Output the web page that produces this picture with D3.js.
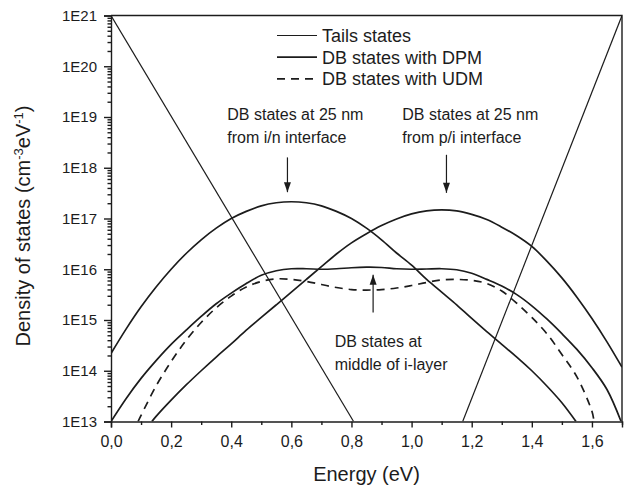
<!DOCTYPE html>
<html>
<head>
<meta charset="utf-8">
<script src="https://cdn.jsdelivr.net/npm/d3@7"></script>
<style>
	body { margin: 0; background: #fff; }
	svg { display: block; font-family: "Liberation Sans", Arial, sans-serif; }
</style>
</head>
<body>
<div id="chart"></div>
<script>
(function () {
	"use strict";

	// axis ticks
	var xTicks = [0, 0.2, 0.4, 0.6, 0.8, 1.0, 1.2, 1.4, 1.6];
	var xMinorTicks = [0.1, 0.3, 0.5, 0.7, 0.9, 1.1, 1.3, 1.5, 1.7];
	var yTicks = [1e13, 1e14, 1e15, 1e16, 1e17, 1e18, 1e19, 1e20, 1e21];

	// tail states (band tails), straight lines on the log axis
	var tailLeftE = [0, 0.807];
	var tailLeftN = [1e21, 1e13];
	var tailRightE = [1.17, 1.7];
	var tailRightN = [1e13, 1e21];

	// DB states with DPM, 25 nm from i/n interface (log10 of density)
	var inE = [0, 0.05, 0.1, 0.15, 0.2, 0.25, 0.3, 0.35, 0.4, 0.45, 0.5, 0.55, 0.6, 0.65, 0.7, 0.75, 0.8, 0.85,
		0.9, 0.95, 1.0, 1.05, 1.1, 1.15, 1.2, 1.25, 1.3, 1.35, 1.4, 1.45, 1.5, 1.547];
	var inLog = [14.34, 14.82, 15.26, 15.65, 16.0, 16.31, 16.58, 16.81, 17.0, 17.14, 17.25, 17.31, 17.33, 17.31, 17.25, 17.14, 17.0, 16.81,
		16.58, 16.32, 16.08, 15.8, 15.55, 15.3, 15.03, 14.77, 14.52, 14.27, 14.0, 13.7, 13.37, 13.0];

	// DB states with DPM, 25 nm from p/i interface
	var piE = [0.136, 0.15, 0.2, 0.25, 0.3, 0.35, 0.4, 0.45, 0.5, 0.55, 0.6, 0.65, 0.7, 0.75, 0.8, 0.85, 0.9,
		0.95, 1.0, 1.05, 1.1, 1.15, 1.2, 1.25, 1.3, 1.35, 1.4, 1.45, 1.5, 1.55, 1.6, 1.65, 1.7];
	var piLog = [13.0, 13.1, 13.42, 13.72, 14.0, 14.27, 14.53, 14.8, 15.05, 15.3, 15.55, 15.8, 16.05, 16.3, 16.52, 16.7, 16.86,
		16.99, 17.09, 17.15, 17.17, 17.15, 17.08, 16.98, 16.83, 16.66, 16.45, 16.16, 15.83, 15.45, 15.03, 14.57, 14.07];

	// DB states with DPM, middle of i-layer
	var midE = [0, 0.05, 0.1, 0.15, 0.2, 0.25, 0.3, 0.35, 0.4, 0.45, 0.5, 0.55, 0.6, 0.65, 0.7, 0.75, 0.8, 0.85,
		0.9, 0.95, 1.0, 1.05, 1.1, 1.15, 1.2, 1.25, 1.3, 1.35, 1.4, 1.45, 1.5, 1.55, 1.6, 1.65, 1.697];
	var midLog = [13.0, 13.45, 13.85, 14.2, 14.52, 14.8, 15.07, 15.32, 15.53, 15.72, 15.88, 15.97, 16.01, 16.01, 16.0, 16.01, 16.03, 16.04,
		16.035, 16.01, 16.0, 16.005, 16.01, 15.99, 15.92, 15.8, 15.67, 15.5, 15.28, 15.02, 14.73, 14.42, 14.06, 13.63, 13.0];

	// DB states with UDM, middle of i-layer
	var udmE = [0.09, 0.1, 0.15, 0.2, 0.25, 0.3, 0.35, 0.4, 0.45, 0.5, 0.55, 0.6, 0.65, 0.7, 0.75, 0.8, 0.85,
		0.9, 0.95, 1.0, 1.05, 1.1, 1.15, 1.2, 1.25, 1.3, 1.35, 1.4, 1.45, 1.5, 1.55, 1.6, 1.607];
	var udmLog = [13.0, 13.12, 13.7, 14.18, 14.6, 14.95, 15.24, 15.47, 15.65, 15.76, 15.81, 15.8, 15.76, 15.7, 15.64, 15.6, 15.59,
		15.6, 15.63, 15.68, 15.74, 15.79, 15.8, 15.78, 15.72, 15.57, 15.33, 15.05, 14.73, 14.32, 13.88, 13.2, 13.0];

	var legendItems = ['Tails states', 'DB states with DPM', 'DB states with UDM'];

	// annotation anchors in data space (energy, density)
	var notes = [
		{ e: 0.387, n: 8.7e18, lines: ['DB states at 25 nm', 'from i/n interface'], arrowE: 0.587, from: 1.6e18, to: 3.3e17 },
		{ e: 0.969, n: 8.7e18, lines: ['DB states at 25 nm', 'from p/i interface'], arrowE: 1.116, from: 1.8e18, to: 3.2e17 },
		{ e: 0.744, n: 3.0e14, lines: ['DB states at', 'middle of i-layer'], arrowE: 0.872, from: 1.4e15, to: 7.8e15 }
	];

	var width = 626, height = 491;
	var margin = { top: 15.5, right: 4, bottom: 69.5, left: 111 };
	var innerW = width - margin.left - margin.right;
	var innerH = height - margin.top - margin.bottom;
	var ink = '#1c1c1c';

	var svg = d3.select('#chart')
		.append('svg')
		.attr('width', width)
		.attr('height', height);

	var g = svg.append('g')
		.attr('transform', 'translate(' + margin.left + ',' + margin.top + ')');

	var x = d3.scaleLinear().domain([0, 1.7]).range([0, innerW]);
	var y = d3.scaleLog().domain([1e13, 1e21]).range([innerH, 0]);

	g.append('clipPath')
		.attr('id', 'plot-clip')
		.append('rect')
		.attr('width', innerW)
		.attr('height', innerH);

	function toPoints(es, vals, isLog) {
		return es.map(function (e, i) {
			return [e, isLog ? Math.pow(10, vals[i]) : vals[i]];
		});
	}

	var smooth = d3.line()
		.x(function (d) { return x(d[0]); })
		.y(function (d) { return y(d[1]); })
		.curve(d3.curveCatmullRom.alpha(0.5));

	var straight = d3.line()
		.x(function (d) { return x(d[0]); })
		.y(function (d) { return y(d[1]); });

	var plot = g.append('g').attr('clip-path', 'url(#plot-clip)');

	var series = [
		{ pts: toPoints(tailLeftE, tailLeftN, false), line: straight, w: 1.2, dash: null },
		{ pts: toPoints(tailRightE, tailRightN, false), line: straight, w: 1.2, dash: null },
		{ pts: toPoints(inE, inLog, true), line: smooth, w: 1.7, dash: null },
		{ pts: toPoints(piE, piLog, true), line: smooth, w: 1.7, dash: null },
		{ pts: toPoints(midE, midLog, true), line: smooth, w: 1.7, dash: null },
		{ pts: toPoints(udmE, udmLog, true), line: smooth, w: 1.7, dash: '8,6' }
	];

	plot.selectAll('.series')
		.data(series)
		.enter()
		.append('path')
		.classed('series', true)
		.attr('fill', 'none')
		.attr('stroke', ink)
		.attr('stroke-width', function (s) { return s.w; })
		.attr('stroke-dasharray', function (s) { return s.dash; })
		.attr('d', function (s) { return s.line(s.pts); });

	// axes
	var xAxis = g.append('g')
		.attr('transform', 'translate(0,' + innerH + ')')
		.call(d3.axisBottom(x)
			.tickValues(xTicks)
			.tickSize(6)
			.tickPadding(8)
			.tickFormat(function (d) { return d3.format('.1f')(d).replace('.', ','); }));

	g.append('g')
		.attr('transform', 'translate(0,' + innerH + ')')
		.call(d3.axisBottom(x).tickValues(xMinorTicks).tickSize(3.5).tickFormat(''))
		.select('.domain').remove();

	var yAxis = g.append('g')
		.call(d3.axisLeft(y)
			.tickValues(yTicks)
			.tickSize(7)
			.tickPadding(7)
			.tickFormat(function (d) { return '1E' + Math.round(Math.log10(d)); }));

	var yMinor = y.ticks().filter(function (d) {
		var m = d / Math.pow(10, Math.floor(Math.log10(d) + 1e-9));
		return Math.round(m) !== 1;
	});

	g.append('g')
		.call(d3.axisLeft(y).tickValues(yMinor).tickSize(3.5).tickFormat(''))
		.select('.domain').remove();

	g.selectAll('.domain, .tick line')
		.attr('stroke', ink)
		.attr('stroke-width', 1.4);

	xAxis.selectAll('text')
		.attr('fill', ink)
		.style('font-size', '16px');

	yAxis.selectAll('text')
		.attr('fill', ink)
		.style('font-size', '15px');

	// frame top and right
	g.append('path')
		.attr('fill', 'none')
		.attr('stroke', ink)
		.attr('stroke-width', 1.4)
		.attr('d', 'M0,0H' + innerW + 'V' + innerH);

	// axis titles
	g.append('text')
		.attr('x', innerW / 2)
		.attr('y', innerH + 59)
		.attr('text-anchor', 'middle')
		.attr('fill', ink)
		.style('font-size', '20px')
		.text('Energy (eV)');

	var yTitle = svg.append('text')
		.attr('transform', 'translate(30,226) rotate(-90)')
		.attr('text-anchor', 'middle')
		.attr('fill', ink)
		.style('font-size', '20px');
	yTitle.append('tspan').text('Density of states (cm');
	yTitle.append('tspan').attr('dy', -7).style('font-size', '13px').text('-3');
	yTitle.append('tspan').attr('dy', 7).text('eV');
	yTitle.append('tspan').attr('dy', -7).style('font-size', '13px').text('-1');
	yTitle.append('tspan').attr('dy', 7).text(')');

	// legend
	var legend = g.append('g')
		.attr('transform', 'translate(166,20)');

	var rows = legend.selectAll('.legend-row')
		.data(legendItems)
		.enter()
		.append('g')
		.classed('legend-row', true)
		.attr('transform', function (d, i) { return 'translate(0,' + (i * 21.7) + ')'; });

	rows.append('line')
		.attr('x1', 0)
		.attr('x2', 40)
		.attr('stroke', ink)
		.attr('stroke-width', function (d, i) { return i === 0 ? 1.2 : 1.7; })
		.attr('stroke-dasharray', function (d, i) { return i === 2 ? '8,6' : null; });

	rows.append('text')
		.attr('x', 45)
		.attr('y', 6.5)
		.attr('fill', ink)
		.style('font-size', '18px')
		.text(function (d) { return d; });

	// annotations
	var ann = g.selectAll('.note')
		.data(notes)
		.enter()
		.append('g')
		.classed('note', true);

	ann.append('text')
		.attr('x', function (d) { return x(d.e); })
		.attr('y', function (d) { return y(d.n); })
		.attr('fill', ink)
		.style('font-size', '16px')
		.selectAll('tspan')
		.data(function (d) { return d.lines.map(function (l) { return { text: l, x: x(d.e) }; }); })
		.enter()
		.append('tspan')
		.attr('x', function (l) { return l.x; })
		.attr('dy', function (l, i) { return i === 0 ? 0 : 23; })
		.text(function (l) { return l.text; });

	ann.append('line')
		.attr('x1', function (d) { return x(d.arrowE); })
		.attr('x2', function (d) { return x(d.arrowE); })
		.attr('y1', function (d) { return y(d.from); })
		.attr('y2', function (d) { return y(d.to); })
		.attr('stroke', ink)
		.attr('stroke-width', 1.2);

	ann.append('path')
		.attr('fill', ink)
		.attr('d', function (d) {
			var cx = x(d.arrowE), tip = y(d.to);
			var dir = y(d.to) > y(d.from) ? -1 : 1;
			return 'M' + cx + ',' + tip +
				'L' + (cx - 3.5) + ',' + (tip + dir * 10) +
				'L' + (cx + 3.5) + ',' + (tip + dir * 10) + 'Z';
		});
}());
</script>
</body>
</html>
